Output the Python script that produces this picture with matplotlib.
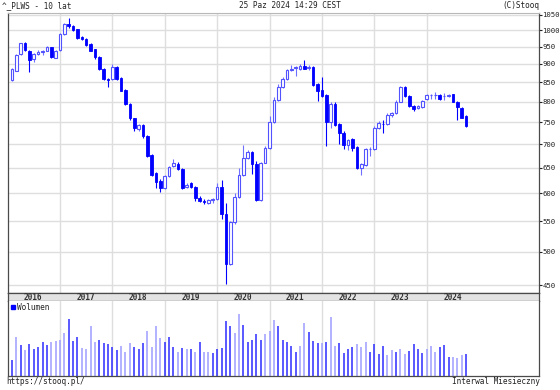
import matplotlib

matplotlib.use("Agg")
import matplotlib.pyplot as plt
import numpy as np
import pandas as pd
from matplotlib.patches import Rectangle
from matplotlib.ticker import FixedLocator, NullLocator, FixedFormatter

plt.rcParams["font.family"] = ["DejaVu Sans Mono"]

# monthly candles, Feb 2016 .. Oct 2024
months = pd.period_range("2016-02", "2024-10", freq="M")
opens = [
    856, 881, 927, 960, 938, 914, 928, 933, 938, 948,
    918, 940, 987, 1020, 1013, 1003, 978, 974, 959, 942,
    920, 886, 858, 858, 892, 861, 829, 794, 759, 733,
    743, 718, 676, 639, 624, 611, 634, 654, 658, 647,
    612, 619, 613, 591, 585, 583, 588, 589, 613, 563,
    481, 548, 594, 636, 671, 684, 657, 588, 661, 692,
    751, 804, 836, 858, 883, 888, 886, 895, 889, 892,
    845, 829, 816, 751, 794, 745, 725, 698, 711, 693,
    649, 656, 689, 689, 737, 746, 745, 768, 771, 800,
    838, 814, 789, 783, 786, 806, 816, 816, 816, 814,
    815, 818, 800, 785, 764,
]
highs = [
    888, 928, 962, 963, 941, 932, 940, 941, 952, 950,
    940, 990, 1022, 1038, 1016, 1005, 981, 976, 961, 944,
    922, 888, 860, 900, 895, 863, 831, 796, 761, 746,
    745, 720, 678, 641, 628, 636, 653, 668, 663, 649,
    620, 621, 615, 596, 589, 590, 591, 620, 626, 583,
    550, 600, 649, 698, 687, 686, 664, 663, 695, 764,
    812, 845, 864, 887, 896, 894, 901, 910, 898, 894,
    848, 864, 818, 800, 800, 747, 729, 712, 713, 695,
    659, 691, 694, 741, 752, 754, 772, 775, 803, 840,
    840, 816, 791, 791, 804, 819, 819, 824, 818, 822,
    818, 820, 802, 787, 766,
]
lows = [
    852, 879, 925, 938, 877, 905, 925, 926, 936, 917,
    916, 938, 985, 1008, 998, 972, 969, 953, 936, 913,
    883, 855, 836, 856, 855, 826, 792, 756, 730, 729,
    714, 672, 633, 611, 603, 608, 632, 651, 645, 609,
    610, 611, 586, 584, 581, 581, 583, 587, 553, 452,
    479, 546, 592, 634, 669, 637, 586, 586, 659, 690,
    749, 802, 834, 856, 880, 867, 884, 885, 884, 840,
    802, 812, 697, 737, 740, 701, 689, 688, 686, 647,
    636, 654, 675, 687, 735, 726, 743, 762, 769, 798,
    812, 787, 776, 781, 784, 804, 806, 806, 804, 805,
    812, 798, 755, 759, 739,
]
closes = [
    885, 926, 960, 940, 911, 928, 935, 938, 950, 919,
    938, 987, 1020, 1013, 1001, 975, 973, 955, 938, 919,
    885, 858, 855, 892, 858, 828, 794, 759, 736, 743,
    718, 675, 636, 622, 611, 634, 651, 659, 647, 611,
    617, 613, 591, 586, 584, 588, 590, 613, 563, 481,
    548, 594, 636, 670, 684, 657, 588, 661, 692, 751,
    804, 836, 858, 883, 887, 890, 895, 887, 892, 843,
    827, 815, 751, 793, 743, 724, 698, 710, 691, 649,
    657, 689, 690, 737, 749, 745, 768, 771, 800, 838,
    814, 789, 781, 789, 802, 817, 817, 817, 806, 815,
    817, 800, 786, 761, 741,
]
# relative volume (no scale on the chart)
volume = [
    16, 39.3, 31, 26, 32, 26.7, 29.3, 33.7, 31, 34,
    35, 36.3, 43, 56.7, 35, 39.3, 28, 26.7, 50, 34.3,
    36, 33, 31.7, 29.3, 26, 30, 24, 33, 28.7, 26.7,
    33, 45, 29, 50.3, 38, 34.3, 39, 29.3, 24.3, 28,
    27, 27, 24, 33.7, 24.3, 24.3, 23.3, 27, 28, 54.7,
    49.7, 43, 62.3, 51.3, 33.7, 36.3, 42, 36.3, 42, 45.3,
    56, 50.3, 35.7, 34, 30, 24, 30, 53.3, 44, 35,
    33, 33, 34, 59, 30, 33, 23, 27, 28.7, 31.7,
    29, 34, 24.3, 31.7, 22.3, 30, 21.3, 26, 24.3, 27,
    22.3, 25, 32, 26.7, 23, 27, 30, 24.3, 29, 30.7,
    19, 19, 18, 21, 22.3,
]
# d = dark bar, l = light bar
vol_tone = (
    "dldldddddl" "llldddllll" "dddddllldd"
    "dlllldddld" "ldldlldddd" "dlldddddll"
    "ldddddlldd" "dldllddddl" "llddddlldl"
    "lddddllldd" "dlllddd"
)
vol_tone = vol_tone[:105].ljust(105, "d")
price_ticks = list(range(450, 1051, 50))
years = list(range(2016, 2025))

W, H = 560, 390


def box(x0, y0, x1, y1):
    return [x0 / W, 1 - y1 / H, (x1 - x0) / W, (y1 - y0) / H]


fig = plt.figure(figsize=(W / 100, H / 100), dpi=100)
ax = fig.add_axes(box(7.6, 13, 539.3, 292.7))
band = fig.add_axes(box(7.6, 292.7, 539.3, 300.7))
axv = fig.add_axes(box(7.6, 300.7, 539.3, 376))

x = np.array([(m.year - 2016) * 12 + m.month - 1 for m in months])
o, h, l, c = (np.array(v, dtype=float) for v in (opens, highs, lows, closes))
up = c >= o
xmax = 121.8
year_starts = [12 * (y - 2016) for y in years[1:]]

grid_kw = dict(color="#dedede", linewidth=1.0, zorder=0)
dark = "#4a4a4a"

# price panel
ax.set_yscale("log")
ax.set_ylim(439.7, 1055.6)
ax.set_xlim(0, xmax)
for p in price_ticks:
    ax.axhline(p, **grid_kw)
for xs in year_starts:
    ax.axvline(xs, **grid_kw)
ax.yaxis.set_major_locator(FixedLocator(price_ticks))
ax.yaxis.set_major_formatter(FixedFormatter([str(p) for p in price_ticks]))
ax.yaxis.set_minor_locator(NullLocator())
ax.yaxis.tick_right()
ax.tick_params(axis="y", direction="out", length=2.0, width=0.8, pad=0.2,
               labelsize=5.2, colors="#222222")
ax.set_xticks([])
for side in ("left", "right", "bottom"):
    ax.spines[side].set_color(dark)
    ax.spines[side].set_linewidth(0.9)
ax.spines["top"].set_color("#b8b8b8")
ax.spines["top"].set_linewidth(0.8)

wick_colors = np.where(up, "#6f6fff", "#0000ff")
ax.vlines(x, l, h, colors=wick_colors, linewidth=0.8, zorder=2)
lo = np.minimum(o, c)
hgt = np.maximum(np.abs(c - o), 1.2)
ax.bar(x[up], hgt[up], bottom=lo[up], width=0.6, facecolor="white",
       edgecolor="#5252ff", linewidth=0.8, zorder=3)
ax.bar(x[~up], hgt[~up], bottom=lo[~up], width=0.6, facecolor="#0000ff",
       edgecolor="#0000ff", linewidth=0.6, zorder=3)

# year band
band.set_facecolor("#e3e3e3")
band.set_xlim(0, xmax)
band.set_ylim(0, 1)
band.set_yticks([])
band.set_xticks(year_starts)
band.set_xticklabels([])
band.tick_params(axis="x", direction="out", length=2, width=0.8, color=dark)
for side in band.spines.values():
    side.set_color(dark)
    side.set_linewidth(0.9)
for y in years:
    band.text(12 * (y - 2016) + 5.9, 0.45, str(y), ha="center", va="center",
              fontsize=5.6, fontweight="bold", color="#333333")

# volume panel
axv.set_xlim(0, xmax)
axv.set_ylim(0, 75.3)
for xs in year_starts:
    axv.axvline(xs, **grid_kw)
vol_colors = ["#2b2bff" if t == "d" else "#9c9cff" for t in vol_tone]
axv.vlines(x, 0, volume, colors=vol_colors, linewidth=1.1, zorder=2)
axv.set_xticks([])
axv.set_yticks([])
axv.spines["top"].set_visible(False)
for side in ("left", "right", "bottom"):
    axv.spines[side].set_color(dark)
    axv.spines[side].set_linewidth(0.9)
fig.patches.append(Rectangle((11 / W, 1 - 309.3 / H), 4 / W, 4 / H,
                             transform=fig.transFigure, color="#0000ff"))
fig.text(17 / W, 1 - 307.3 / H, "Wolumen", fontsize=5.6, va="center",
         color="#222222")

# header / footer
txt = dict(fontsize=5.6, va="center", color="#222222")
fig.text(2 / W, 1 - 5.8 / H, "^_PLWS - 10 lat", ha="left", **txt)
fig.text(289.7 / W, 1 - 5.8 / H, "25 Paz 2024 14:29 CEST", ha="center", **txt)
fig.text(539 / W, 1 - 5.8 / H, "(C)Stooq", ha="right", **txt)
fig.text(6.7 / W, 1 - 382 / H, "https://stooq.pl/", ha="left", **txt)
fig.text(539.5 / W, 1 - 382 / H, "Interwal Miesieczny", ha="right", **txt)

fig.savefig("out.png", dpi=100)
plt.close(fig)
